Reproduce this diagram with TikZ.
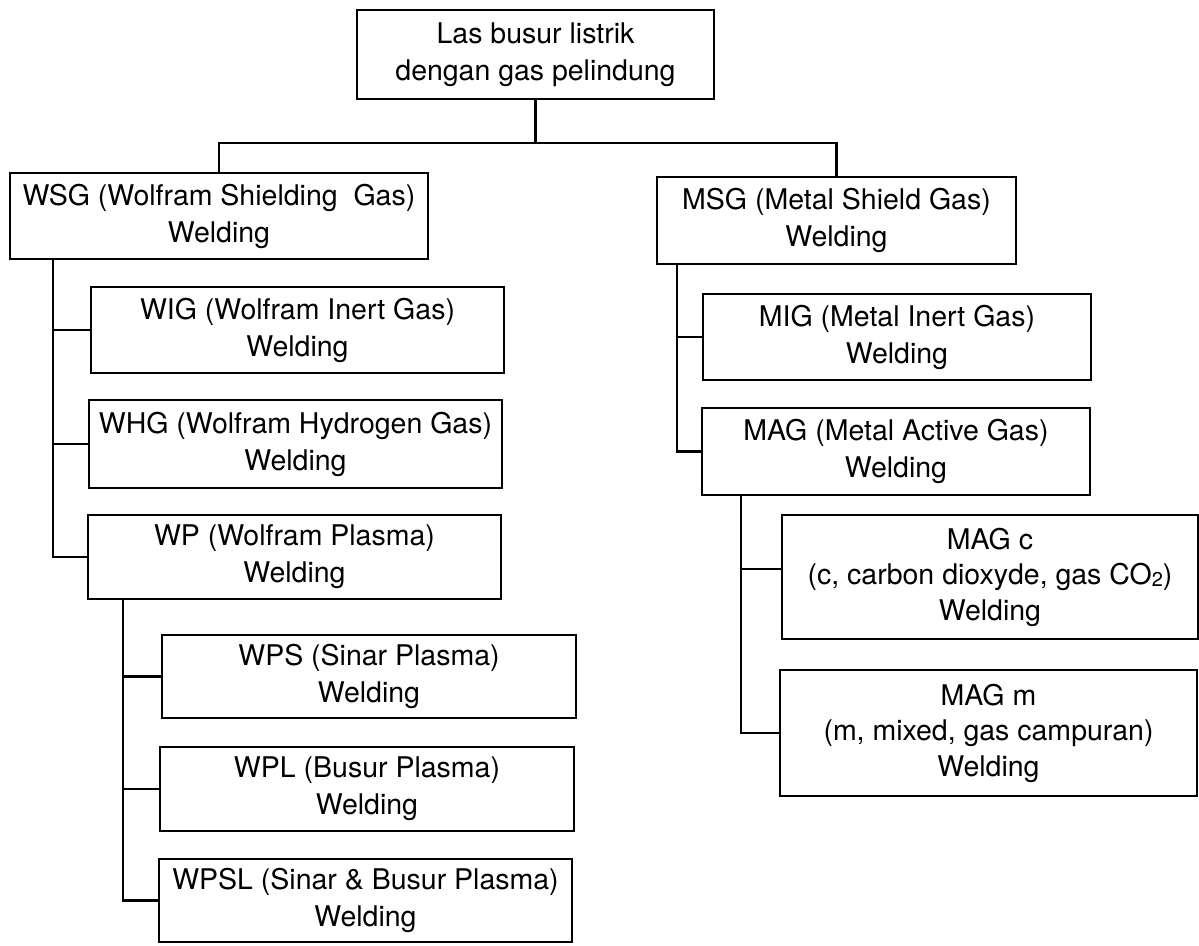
\documentclass[tikz,border=0pt]{standalone}
\usepackage{fontspec}
\setmainfont{TeX Gyre Heros}
\begin{document}
\begin{tikzpicture}[x=1pt,y=-1pt,
  box/.style={draw=black, line width=2.2pt, rectangle, inner sep=0pt, align=center,
    font=\fontsize{28.5}{37}\selectfont, text=black},
  box3/.style={box, font=\fontsize{28.5}{35.5}\selectfont},
  conn/.style={draw=black, line width=2.2pt}]
\useasboundingbox[fill=white] (0,0) rectangle (1199,945);
% boxes: name, left, top, right, bottom, text, style
\newcommand{\bx}[7]{\node[box, #7, minimum width=#4-#2, minimum height=#5-#3] (#1) at ({(#2+#4)/2},{(#3+#5)/2}) {#6};}
\bx{top}{357}{10}{714}{99}{Las busur listrik\\dengan gas pelindung}{}
\bx{wsg}{10}{173}{428}{259}{WSG (Wolfram Shielding\ \ Gas)\\Welding}{}
\bx{wig}{91}{287}{504}{373}{WIG (Wolfram Inert Gas)\\Welding}{}
\bx{whg}{89}{400}{502}{488}{WHG (Wolfram Hydrogen Gas)\\Welding}{}
\bx{wp}{88}{515}{501}{599}{WP (Wolfram Plasma)\\Welding}{}
\bx{wps}{162}{635}{576}{718}{WPS (Sinar Plasma)\\Welding}{}
\bx{wpl}{160}{747}{574}{831}{WPL (Busur Plasma)\\Welding}{}
\bx{wpsl}{159}{859}{572}{942}{WPSL (Sinar \& Busur Plasma)\\Welding}{}
\bx{msg}{657}{177}{1016}{264}{MSG (Metal Shield Gas)\\Welding}{}
\bx{mig}{703}{294}{1091}{380}{MIG (Metal Inert Gas)\\Welding}{}
\bx{mag}{702}{408}{1090}{495}{MAG (Metal Active Gas)\\Welding}{}
\bx{magc}{782}{515}{1198}{639}{MAG c\\(c, carbon dioxyde, gas CO\raisebox{-2pt}{\fontsize{20}{20}\selectfont 2})\\Welding}{box3}
\bx{magm}{780}{670}{1197}{796}{MAG m\\(m, mixed, gas campuran)\\Welding}{box3}
% top split
\coordinate (j) at (537,143);
\draw[conn] (top.south) -- (top.south |- j);
\draw[conn] (wsg.north) -- (wsg.north |- j) -| (msg.north);
% WSG children
\coordinate (t1) at ([xshift=44pt]wsg.south west);
\draw[conn] (t1) |- (wp.west);
\draw[conn] (t1 |- wig.west) -- (wig.west);
\draw[conn] (t1 |- whg.west) -- (whg.west);
% WP children
\coordinate (t2) at ([xshift=36pt]wp.south west);
\draw[conn] (t2) |- (wpsl.west);
\draw[conn] (t2 |- wps.west) -- (wps.west);
\draw[conn] (t2 |- wpl.west) -- (wpl.west);
% MSG children
\coordinate (t3) at ([xshift=21pt]msg.south west);
\draw[conn] (t3) |- (mag.west);
\draw[conn] (t3 |- mig.west) -- (mig.west);
% MAG children
\coordinate (t4) at ([xshift=40pt]mag.south west);
\coordinate (mc) at ([yshift=8pt]magc.west);
\draw[conn] (t4) |- (magm.west);
\draw[conn] (t4 |- mc) -- (mc);
\end{tikzpicture}
\end{document}
